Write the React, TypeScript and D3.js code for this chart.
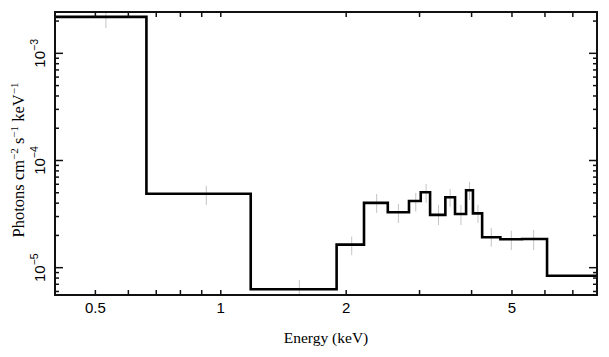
import React from "react";
import * as d3 from "d3";

// Bin edges (keV) of the model step histogram
const binEdges = [0.4, 0.663, 1.18, 1.897, 2.207, 2.517, 2.83, 3.02, 3.18, 3.46, 3.65, 3.88, 4.03, 4.24, 4.69, 5.29, 6.07, 8.0];
// Model values per bin (photons cm^-2 s^-1 keV^-1)
const modelValues = [2.19e-3, 4.9e-5, 6.3e-6, 1.64e-5, 4.02e-5, 3.29e-5, 4.19e-5, 5.05e-5, 3.11e-5, 4.54e-5, 3.17e-5, 5.27e-5, 3.21e-5, 1.92e-5, 1.84e-5, 1.85e-5, 8.4e-6];
// Data points: energy and error range
const dataEnergy = [0.53, 0.923, 1.544, 2.062, 2.367, 2.669, 2.938, 3.111, 3.331, 3.553, 3.771, 3.955, 4.143, 4.46, 4.982, 5.637];
const dataLow = [1.72e-3, 3.85e-5, 5.69e-6, 1.31e-5, 3.24e-5, 2.61e-5, 3.33e-5, 4.02e-5, 2.5e-5, 3.71e-5, 2.5e-5, 4.28e-5, 2.61e-5, 1.57e-5, 1.46e-5, 1.46e-5];
const dataHigh = [2.9e-3, 5.82e-5, 7.68e-6, 1.95e-5, 4.87e-5, 3.93e-5, 4.98e-5, 6.04e-5, 3.85e-5, 5.42e-5, 3.85e-5, 6.34e-5, 3.85e-5, 2.35e-5, 2.21e-5, 2.25e-5];

const xLabeledTicks = [0.5, 1, 2, 5];
const xLabels = ["0.5", "1", "2", "5"];
const xMinorTicks = [0.6, 0.7, 0.8, 0.9, 3, 4, 6, 7];
const yMajorTicks = [1e-3, 1e-4, 1e-5];
const yExponents = ["−3", "−4", "−5"];
const yMinorTicks = [6e-6, 7e-6, 8e-6, 9e-6, 2e-5, 3e-5, 4e-5, 5e-5, 6e-5, 7e-5, 8e-5, 9e-5, 2e-4, 3e-4, 4e-4, 5e-4, 6e-4, 7e-4, 8e-4, 9e-4, 2e-3];

const W = 609;
const H = 357;
const L = 55, R = 597, T = 12, B = 295;

export default function App() {
  const x = d3.scaleLog().domain([0.4, 8.0]).range([L, R]);
  const y = d3.scaleLog().domain([5.56e-6, 2.43e-3]).range([B, T]);

  const stepPts: [number, number][] = modelValues.map((v, i) => [binEdges[i], v]);
  stepPts.push([binEdges[binEdges.length - 1], modelValues[modelValues.length - 1]]);
  const line = d3
    .line<[number, number]>()
    .x((d) => x(d[0]))
    .y((d) => y(d[1]))
    .curve(d3.curveStepAfter);

  const sans = "'Liberation Sans', Arial, Helvetica, sans-serif";
  const serif = "'Liberation Serif', 'Times New Roman', serif";
  const axisColor = "#111";

  return (
    <svg width={W} height={H} style={{ position: "absolute", left: 0, top: 0 }}>
      <rect x={0} y={0} width={W} height={H} fill="#fff" />
      <defs>
        <clipPath id="plotclip">
          <rect x={L} y={T} width={R - L} height={B - T} />
        </clipPath>
      </defs>
      <g clipPath="url(#plotclip)">
        {dataEnergy.map((e, i) => (
          <line key={i} x1={x(e)} x2={x(e)} y1={y(dataLow[i])} y2={y(dataHigh[i])} stroke="#c4c4c4" strokeWidth={1} />
        ))}
        <path d={line(stepPts) || ""} fill="none" stroke="#000" strokeWidth={2.6} />
      </g>
      {/* x ticks (bottom and top) */}
      {[...xLabeledTicks, ...xMinorTicks].map((t, i) => (
        <g key={"xt" + i}>
          <line x1={x(t)} x2={x(t)} y1={B} y2={B - 5} stroke={axisColor} strokeWidth={1.5} />
          <line x1={x(t)} x2={x(t)} y1={T} y2={T + 5} stroke={axisColor} strokeWidth={1.5} />
        </g>
      ))}
      {xLabeledTicks.map((t, i) => (
        <text key={"xl" + i} x={x(t)} y={312.5} textAnchor="middle" fontFamily={sans} fontSize={15} fill="#000">
          {xLabels[i]}
        </text>
      ))}
      {/* y ticks */}
      {yMajorTicks.map((t, i) => (
        <g key={"ym" + i}>
          <line x1={L} x2={L + 8} y1={y(t)} y2={y(t)} stroke={axisColor} strokeWidth={1.5} />
          <line x1={R} x2={R - 8} y1={y(t)} y2={y(t)} stroke={axisColor} strokeWidth={1.5} />
        </g>
      ))}
      {yMinorTicks.map((t, i) => (
        <g key={"yn" + i}>
          <line x1={L} x2={L + 4} y1={y(t)} y2={y(t)} stroke={axisColor} strokeWidth={1.5} />
          <line x1={R} x2={R - 4} y1={y(t)} y2={y(t)} stroke={axisColor} strokeWidth={1.5} />
        </g>
      ))}
      {yMajorTicks.map((t, i) => (
        <text
          key={"yl" + i}
          transform={`translate(44.5,${y(t)}) rotate(-90)`}
          textAnchor="middle"
          fontFamily={sans}
          fontSize={15}
          fill="#000"
        >
          10
          <tspan fontSize={10.5} dy={-6.5}>{yExponents[i]}</tspan>
        </text>
      ))}
      {/* frame */}
      <rect x={L} y={T} width={R - L} height={B - T} fill="none" stroke={axisColor} strokeWidth={2} />
      {/* axis titles */}
      <text x={(L + R) / 2} y={342.5} textAnchor="middle" fontFamily={serif} fontSize={15.5} fill="#000">
        Energy (keV)
      </text>
      <text transform={`translate(23.5,160) rotate(-90)`} textAnchor="middle" fontFamily={serif} fontSize={16.5} fill="#000">
        Photons cm
        <tspan fontSize={11} dy={-6}>−2</tspan>
        <tspan dy={6}> s</tspan>
        <tspan fontSize={11} dy={-6}>−1</tspan>
        <tspan dy={6}> keV</tspan>
        <tspan fontSize={11} dy={-6}>−1</tspan>
      </text>
    </svg>
  );
}
